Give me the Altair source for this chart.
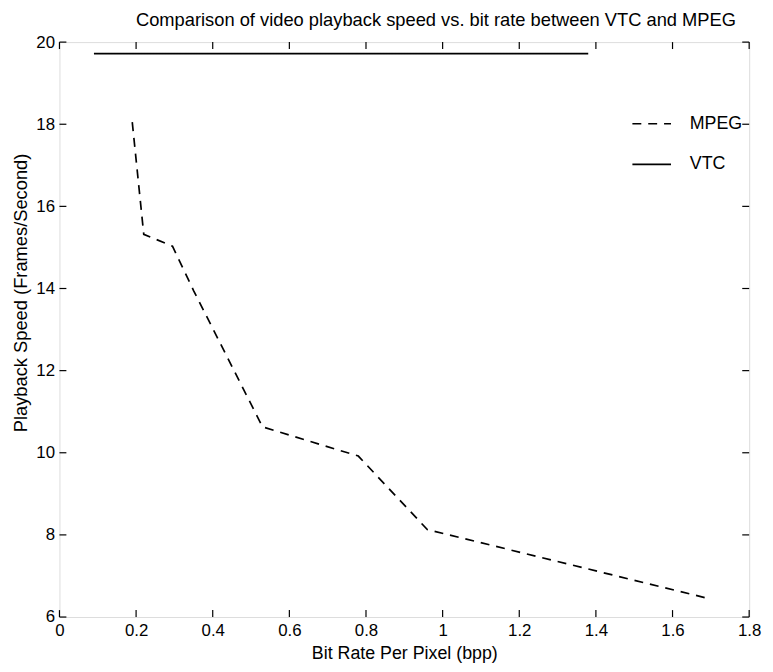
import altair as alt
import pandas as pd

# ---- data ----
mpeg_x = [0.19, 0.22, 0.295, 0.35, 0.53, 0.78, 0.96, 1.69]
mpeg_y = [18.05, 15.32, 15.03, 13.95, 10.63, 9.92, 8.13, 6.46]
vtc_x = [0.09, 1.38]
vtc_y = [19.72, 19.72]
series_names = ["MPEG", "VTC"]

x_ticks = [0, 0.2, 0.4, 0.6, 0.8, 1.0, 1.2, 1.4, 1.6, 1.8]
y_ticks = [6, 8, 10, 12, 14, 16, 18, 20]

title_text = "Comparison of video playback speed vs. bit rate between VTC and MPEG"
x_title = "Bit Rate Per Pixel (bpp)"
y_title = "Playback Speed (Frames/Second)"

FONT = "Liberation Sans"
W, H = 697, 581
TICK = 7

rows = []
for i, (xv, yv) in enumerate(zip(mpeg_x, mpeg_y)):
    rows.append({"series": "MPEG", "x": xv, "y": yv, "order": i})
for i, (xv, yv) in enumerate(zip(vtc_x, vtc_y)):
    rows.append({"series": "VTC", "x": xv, "y": yv, "order": i})
df = pd.DataFrame(rows)

xscale = alt.Scale(domain=[0, 1.8], nice=False, zero=False)
yscale = alt.Scale(domain=[6, 20], nice=False, zero=False)

lines = alt.Chart(df).mark_line(color="black", strokeWidth=1.7).encode(
    x=alt.X("x:Q", scale=xscale,
            axis=alt.Axis(values=x_ticks, format="~g", title=x_title,
                          domain=False, ticks=False, grid=False,
                          labelPadding=6, titlePadding=6,
                          labelFont=FONT, titleFont=FONT,
                          labelFontSize=17, titleFontSize=18,
                          titleFontWeight="normal", labelColor="black",
                          titleColor="black", labelFlush=False)),
    y=alt.Y("y:Q", scale=yscale,
            axis=alt.Axis(values=y_ticks, format="~g", title=y_title,
                          domain=False, ticks=False, grid=False,
                          labelPadding=5,
                          titleX=-39, titleY=253, titleBaseline="middle",
                          labelFont=FONT, titleFont=FONT,
                          labelFontSize=17, titleFontSize=18.5,
                          titleFontWeight="normal", labelColor="black",
                          titleColor="black", labelFlush=False)),
    strokeDash=alt.StrokeDash(
        "series:N",
        scale=alt.Scale(domain=series_names, range=[[9, 7], [1, 0]]),
        legend=alt.Legend(title=None, orient="none", legendX=578, legendY=62,
                          symbolType="stroke", symbolSize=1521,
                          symbolStrokeColor="black", symbolStrokeWidth=1.7,
                          labelFont=FONT, labelFontSize=18, labelColor="black",
                          labelOffset=18, rowPadding=11, padding=0)),
    order="order:Q",
)

xt = pd.DataFrame({"v": x_ticks})
yt = pd.DataFrame({"v": y_ticks})

bottom_ticks = alt.Chart(xt).mark_rule(color="black", strokeWidth=1.2).encode(
    x=alt.X("v:Q", scale=xscale), y=alt.value(H), y2=alt.value(H - TICK))
top_ticks = alt.Chart(xt).mark_rule(color="black", strokeWidth=1.2).encode(
    x=alt.X("v:Q", scale=xscale), y=alt.value(0), y2=alt.value(TICK))
left_ticks = alt.Chart(yt).mark_rule(color="black", strokeWidth=1.2).encode(
    y=alt.Y("v:Q", scale=yscale), x=alt.value(0), x2=alt.value(TICK))
right_ticks = alt.Chart(yt).mark_rule(color="black", strokeWidth=1.2).encode(
    y=alt.Y("v:Q", scale=yscale), x=alt.value(W), x2=alt.value(W - TICK))

chart = alt.layer(lines, bottom_ticks, top_ticks, left_ticks, right_ticks).properties(
    width=W, height=H,
    title=alt.TitleParams(title_text, font=FONT, fontSize=18.5, fontWeight="normal",
                          color="black", anchor="middle", dx=32, offset=4),
    autosize=alt.AutoSizeParams(type="none"),
    padding={"left": 52, "top": 31, "right": 16, "bottom": 44},
).configure_view(stroke="black", strokeWidth=1.5).configure(background="white")

chart.save("out.html", embed_options={"renderer": "svg", "actions": False})
